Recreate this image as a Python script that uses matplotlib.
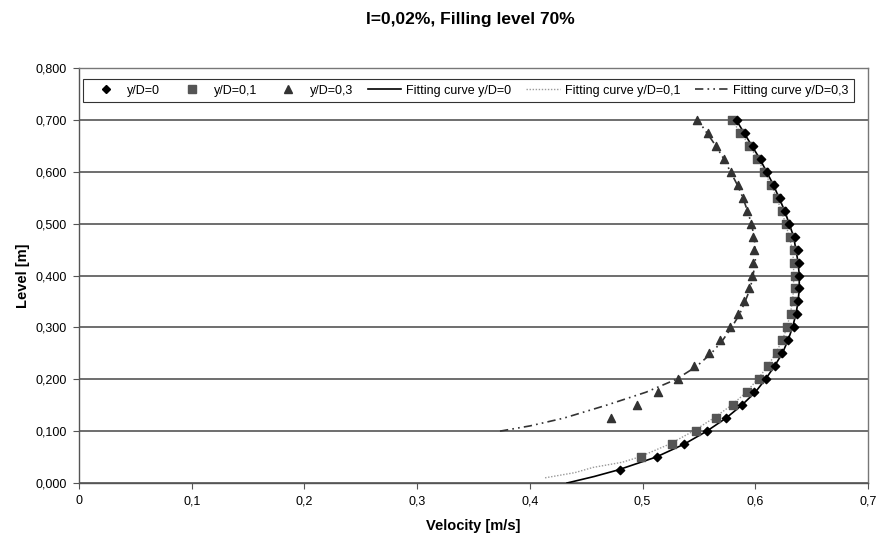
import matplotlib
matplotlib.use("Agg")
from matplotlib import pyplot as plt
from matplotlib.lines import Line2D
from matplotlib.ticker import FuncFormatter, MultipleLocator

plt.rcParams['font.family'] = ['Liberation Sans', 'DejaVu Sans']

# measured points (velocity vs level)
level_d0 = [0.025, 0.05, 0.075, 0.1, 0.125, 0.15, 0.175, 0.2, 0.225, 0.25,
            0.275, 0.3, 0.325, 0.35, 0.375, 0.4, 0.425, 0.45, 0.475, 0.5,
            0.525, 0.55, 0.575, 0.6, 0.625, 0.65, 0.675, 0.7]
vel_d0 = [0.480, 0.5125, 0.537, 0.557, 0.574, 0.588, 0.599, 0.6095, 0.6175, 0.624,
          0.629, 0.634, 0.6366, 0.638, 0.639, 0.639, 0.6385, 0.6375, 0.635, 0.630,
          0.6264, 0.622, 0.617, 0.6107, 0.605, 0.598, 0.591, 0.5835]

level_d01 = [0.05, 0.075, 0.1, 0.125, 0.15, 0.175, 0.2, 0.225, 0.25,
             0.275, 0.3, 0.325, 0.35, 0.375, 0.4, 0.425, 0.45, 0.475, 0.5,
             0.525, 0.55, 0.575, 0.6, 0.625, 0.65, 0.675, 0.7]
vel_d01 = [0.499, 0.526, 0.547, 0.565, 0.580, 0.593, 0.603, 0.6115, 0.619,
           0.624, 0.6284, 0.632, 0.634, 0.635, 0.635, 0.6346, 0.634, 0.631, 0.627,
           0.6234, 0.619, 0.614, 0.608, 0.6018, 0.594, 0.5865, 0.579]

level_d03 = [0.125, 0.15, 0.175, 0.2, 0.225, 0.25, 0.275, 0.3, 0.325, 0.35,
             0.375, 0.4, 0.425, 0.45, 0.475, 0.5, 0.525, 0.55, 0.575, 0.6,
             0.625, 0.65, 0.675, 0.7]
vel_d03 = [0.4717, 0.4947, 0.514, 0.531, 0.546, 0.559, 0.569, 0.5776, 0.5845, 0.590,
           0.594, 0.597, 0.598, 0.599, 0.598, 0.596, 0.5924, 0.5888, 0.5844, 0.5785,
           0.572, 0.565, 0.558, 0.5486]

# fitting curves
fit_level_d0 = [0.0, 0.0125, 0.025, 0.05, 0.075, 0.1, 0.125, 0.15, 0.175, 0.2,
                0.225, 0.25, 0.275, 0.3, 0.325, 0.35, 0.375, 0.4, 0.425, 0.45,
                0.475, 0.5, 0.525, 0.55, 0.575, 0.6, 0.625, 0.65, 0.675, 0.7]
fit_vel_d0 = [0.433, 0.457, 0.478, 0.512, 0.537, 0.557, 0.574, 0.588, 0.600, 0.609,
              0.617, 0.624, 0.629, 0.633, 0.636, 0.638, 0.639, 0.639, 0.638, 0.636,
              0.634, 0.630, 0.626, 0.621, 0.616, 0.610, 0.604, 0.597, 0.590, 0.583]

fit_level_d01 = [0.01, 0.02, 0.03, 0.04, 0.05, 0.075, 0.1, 0.125, 0.15, 0.175,
                 0.2, 0.225, 0.25, 0.275, 0.3, 0.325, 0.35, 0.375, 0.4, 0.425,
                 0.45, 0.475, 0.5, 0.525, 0.55, 0.575, 0.6, 0.625, 0.65, 0.675, 0.7]
fit_vel_d01 = [0.4135, 0.440, 0.456, 0.482, 0.497, 0.524, 0.545, 0.563, 0.579, 0.592,
               0.602, 0.611, 0.618, 0.624, 0.628, 0.631, 0.633, 0.634, 0.634, 0.634,
               0.633, 0.630, 0.627, 0.623, 0.619, 0.614, 0.608, 0.602, 0.595, 0.587, 0.579]

fit_level_d03 = [0.1, 0.11, 0.125, 0.15, 0.175, 0.2, 0.225, 0.25, 0.275, 0.3,
                 0.325, 0.35, 0.375, 0.4, 0.425, 0.45, 0.475, 0.5, 0.525, 0.55,
                 0.575, 0.6, 0.625, 0.65, 0.675, 0.7]
fit_vel_d03 = [0.3735, 0.400, 0.430, 0.468, 0.503, 0.530, 0.548, 0.561, 0.571, 0.579,
               0.586, 0.591, 0.5955, 0.598, 0.600, 0.600, 0.599, 0.5965, 0.593, 0.589,
               0.584, 0.578, 0.572, 0.565, 0.557, 0.549]

fig = plt.figure(figsize=(8.77, 5.38), dpi=100)
ax = fig.add_axes([79 / 877, 1 - 483 / 538, (868 - 79) / 877, (483 - 68) / 538])

ax.plot(fit_vel_d0, fit_level_d0, color='black', lw=1.2, zorder=3)
ax.plot(fit_vel_d01, fit_level_d01, color='#999999', lw=1.0, ls=(0, (1, 1.2)), zorder=3)
ax.plot(fit_vel_d03, fit_level_d03, color='#333333', lw=1.2, ls=(0, (5, 2.5, 1, 2.5, 1, 2.5)), zorder=3)

ax.scatter(vel_d0, level_d0, marker='D', s=18, color='black', zorder=5)
ax.scatter(vel_d01, level_d01, marker='s', s=30, color='#555555', zorder=4)
ax.scatter(vel_d03, level_d03, marker='^', s=34, color='#333333', zorder=4)

ax.set_xlim(0, 0.7)
ax.set_ylim(0, 0.8)
ax.xaxis.set_major_locator(MultipleLocator(0.1))
ax.yaxis.set_major_locator(MultipleLocator(0.1))
ax.xaxis.set_major_formatter(FuncFormatter(lambda v, p: '0' if abs(v) < 1e-9 else f'{v:.1f}'.replace('.', ',')))
ax.yaxis.set_major_formatter(FuncFormatter(lambda v, p: f'{v:.3f}'.replace('.', ',')))
ax.tick_params(direction='out', length=4, color='#555555', labelsize=9, pad=5)
ax.grid(axis='y', color='#555555', lw=1.2)
ax.set_axisbelow(True)
for s in ax.spines.values():
    s.set_color('#777777')
    s.set_linewidth(1.0)
ax.spines['left'].set_color('#555555')
ax.spines['bottom'].set_color('#555555')

ax.set_xlabel('Velocity [m/s]', fontsize=10.5, fontweight='bold', labelpad=8)
ax.set_ylabel('Level [m]', fontsize=10.5, fontweight='bold', labelpad=4)
fig.suptitle('I=0,02%, Filling level 70%', x=470 / 877, y=1 - 12 / 538, fontsize=12.5, fontweight='bold', va='top')

handles = [
    Line2D([], [], marker='D', ls='none', color='black', markersize=4.5),
    Line2D([], [], marker='s', ls='none', color='#555555', markersize=5.5),
    Line2D([], [], marker='^', ls='none', color='#333333', markersize=6),
    Line2D([], [], color='black', lw=1.2),
    Line2D([], [], color='#999999', lw=1.0, ls=(0, (1, 1.2))),
    Line2D([], [], color='#333333', lw=1.2, ls=(0, (5, 2.5, 1, 2.5, 1, 2.5))),
]
labels = ['y/D=0', 'y/D=0,1', 'y/D=0,3', 'Fitting curve y/D=0',
          'Fitting curve y/D=0,1', 'Fitting curve y/D=0,3']
leg = ax.legend(handles, labels, ncol=6, loc='upper left', bbox_to_anchor=(4 / 789, 1 - 11 / 415),
                fontsize=9, frameon=True, fancybox=False, edgecolor='black',
                handlelength=2.7, handletextpad=0.4, columnspacing=1.15,
                borderpad=0.45, borderaxespad=0)
leg.get_frame().set_linewidth(0.8)

fig.savefig('out.png', dpi=100, facecolor='white')
